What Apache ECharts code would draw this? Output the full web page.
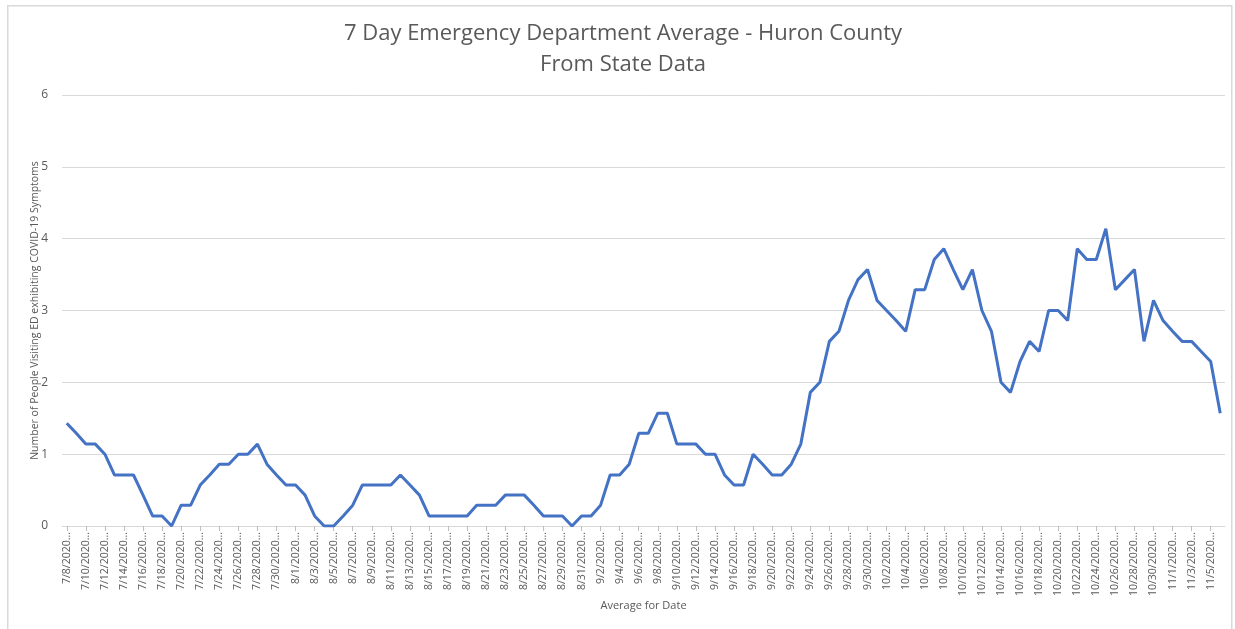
<!DOCTYPE html>
<html>
<head>
<meta charset="utf-8">
<script src="https://cdn.jsdelivr.net/npm/echarts@6/dist/echarts.min.js"></script>
<style>
html,body{margin:0;padding:0;background:#fff;}
#chart{width:1235px;height:629px;}
</style>
</head>
<body>
<div id="chart"></div>
<script>
// Dates 7/8/2020 .. 11/6/2020 (one point per day)
const dates = [
"7/8/2020","7/9/2020","7/10/2020","7/11/2020","7/12/2020","7/13/2020","7/14/2020","7/15/2020","7/16/2020","7/17/2020",
"7/18/2020","7/19/2020","7/20/2020","7/21/2020","7/22/2020","7/23/2020","7/24/2020","7/25/2020","7/26/2020","7/27/2020",
"7/28/2020","7/29/2020","7/30/2020","7/31/2020","8/1/2020","8/2/2020","8/3/2020","8/4/2020","8/5/2020","8/6/2020",
"8/7/2020","8/8/2020","8/9/2020","8/10/2020","8/11/2020","8/12/2020","8/13/2020","8/14/2020","8/15/2020","8/16/2020",
"8/17/2020","8/18/2020","8/19/2020","8/20/2020","8/21/2020","8/22/2020","8/23/2020","8/24/2020","8/25/2020","8/26/2020",
"8/27/2020","8/28/2020","8/29/2020","8/30/2020","8/31/2020","9/1/2020","9/2/2020","9/3/2020","9/4/2020","9/5/2020",
"9/6/2020","9/7/2020","9/8/2020","9/9/2020","9/10/2020","9/11/2020","9/12/2020","9/13/2020","9/14/2020","9/15/2020",
"9/16/2020","9/17/2020","9/18/2020","9/19/2020","9/20/2020","9/21/2020","9/22/2020","9/23/2020","9/24/2020","9/25/2020",
"9/26/2020","9/27/2020","9/28/2020","9/29/2020","9/30/2020","10/1/2020","10/2/2020","10/3/2020","10/4/2020","10/5/2020",
"10/6/2020","10/7/2020","10/8/2020","10/9/2020","10/10/2020","10/11/2020","10/12/2020","10/13/2020","10/14/2020","10/15/2020",
"10/16/2020","10/17/2020","10/18/2020","10/19/2020","10/20/2020","10/21/2020","10/22/2020","10/23/2020","10/24/2020","10/25/2020",
"10/26/2020","10/27/2020","10/28/2020","10/29/2020","10/30/2020","10/31/2020","11/1/2020","11/2/2020","11/3/2020","11/4/2020",
"11/5/2020","11/6/2020"
];

const averages = [
1.43,1.29,1.14,1.14,1,0.71,0.71,0.71,0.43,0.14,
0.14,0,0.29,0.29,0.57,0.71,0.86,0.86,1,1,
1.14,0.86,0.71,0.57,0.57,0.43,0.14,0,0,0.14,
0.29,0.57,0.57,0.57,0.57,0.71,0.57,0.43,0.14,0.14,
0.14,0.14,0.14,0.29,0.29,0.29,0.43,0.43,0.43,0.29,
0.14,0.14,0.14,0,0.14,0.14,0.29,0.71,0.71,0.86,
1.29,1.29,1.57,1.57,1.14,1.14,1.14,1,1,0.71,
0.57,0.57,1,0.86,0.71,0.71,0.86,1.14,1.86,2,
2.57,2.71,3.14,3.43,3.57,3.14,3,2.86,2.71,3.29,
3.29,3.71,3.86,3.57,3.29,3.57,3,2.71,2,1.86,
2.29,2.57,2.43,3,3,2.86,3.86,3.71,3.71,4.14,
3.29,3.43,3.57,2.57,3.14,2.86,2.71,2.57,2.57,2.43,
2.29,1.57
];

const yTicks = [0,1,2,3,4,5,6];

const titleLine1 = "7 Day Emergency Department Average - Huron County";
const titleLine2 = "From State Data";
const yAxisTitle = "Number of People Visiting ED exhibiting COVID-19 Symptoms";
const xAxisTitle = "Average for Date";

const FONT = "'Open Sans', 'Liberation Sans', sans-serif";
const chart = echarts.init(document.getElementById('chart'), null, {renderer:'canvas'});
chart.setOption({
  animation:false,
  backgroundColor:'#ffffff',
  graphic:[{
    type:'rect', left:7, top:5, z:-10,
    shape:{width:1224, height:640},
    style:{fill:'#ffffff', stroke:'#d9d9d9', lineWidth:1.5}
  }],
  title:{
    text: titleLine1 + "\n" + titleLine2,
    left:618, textAlign:'center', top:13,
    textStyle:{fontFamily:FONT, fontSize:22, fontWeight:'normal', color:'#595959', lineHeight:31}
  },
  grid:{left:62, right:10, top:95, bottom:103, containLabel:false},
  xAxis:{
    type:'category',
    data:dates,
    boundaryGap:true,
    name:xAxisTitle,
    nameLocation:'middle',
    nameGap:74,
    nameMoveOverlap:false,
    nameTextStyle:{fontFamily:FONT, fontSize:11, color:'#595959'},
    axisLine:{lineStyle:{color:'#d9d9d9', width:1}},
    axisTick:{show:true, interval:1, alignWithLabel:true, length:5, lineStyle:{color:'#bfbfbf'}},
    axisLabel:{
      interval:1, rotate:90, fontFamily:FONT, fontSize:10.5, color:'#595959', margin:6,
      formatter:function(v){return v + '...';}
    },
    splitLine:{show:false}
  },
  yAxis:{
    type:'value',
    min:yTicks[0], max:yTicks[yTicks.length-1], interval:1,
    name:yAxisTitle,
    nameLocation:'middle',
    nameGap:21,
    nameMoveOverlap:false,
    nameTextStyle:{fontFamily:FONT, fontSize:10.5, color:'#595959'},
    axisLine:{show:false},
    axisTick:{show:false},
    axisLabel:{fontFamily:FONT, fontSize:12, color:'#595959', margin:14},
    splitLine:{lineStyle:{color:'#d9d9d9', width:1}}
  },
  series:[{
    type:'line',
    data:averages,
    symbol:'none',
    smooth:false,
    lineStyle:{color:'#4472c4', width:3},
    itemStyle:{color:'#4472c4'}
  }]
});
</script>
</body>
</html>
